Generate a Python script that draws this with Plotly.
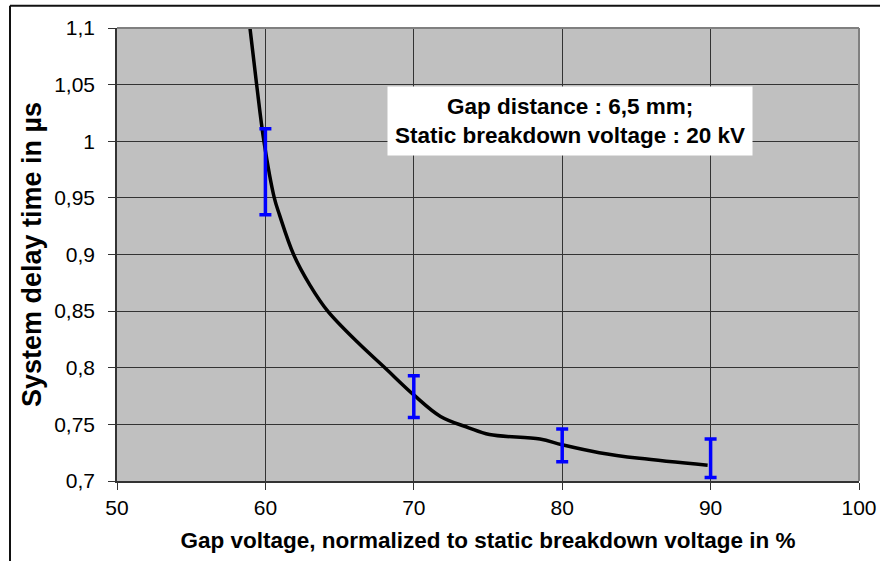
import plotly.graph_objects as go

# Curve (smoothed line)
curve_x = [58.96, 59.41, 59.9, 60.6, 60.95, 61.9, 63.0, 64.2, 66.25, 68.05, 70.0, 71.8, 73.7, 75.1, 78.5, 80.0, 82.5, 85.2, 89.8]
curve_y = [1.1, 1.05, 1.0, 0.95, 0.935, 0.9, 0.873, 0.85, 0.822, 0.8, 0.776, 0.757, 0.747, 0.741, 0.737, 0.732, 0.725, 0.720, 0.714]

# Measured ranges (error bars)
bar_x = [60, 70, 80, 90]
bar_low = [0.935, 0.756, 0.717, 0.703]
bar_high = [1.011, 0.793, 0.746, 0.737]

x_ticks = [50, 60, 70, 80, 90, 100]
x_tick_labels = ["50", "60", "70", "80", "90", "100"]
y_ticks = [0.7, 0.75, 0.8, 0.85, 0.9, 0.95, 1.0, 1.05, 1.1]
y_tick_labels = ["0,7", "0,75", "0,8", "0,85", "0,9", "0,95", "1", "1,05", "1,1"]

note_lines = ["Gap distance : 6,5 mm;", "Static breakdown voltage : 20 kV"]

FONT = "Liberation Sans, Arial, sans-serif"

bar_mid = [(lo + hi) / 2 for lo, hi in zip(bar_low, bar_high)]
bar_half = [(hi - lo) / 2 for lo, hi in zip(bar_low, bar_high)]

fig = go.Figure()
fig.add_trace(go.Scatter(
    x=curve_x, y=curve_y, mode="lines",
    line=dict(color="black", width=3.5, shape="spline", smoothing=1.0),
    showlegend=False, hoverinfo="skip",
))
fig.add_trace(go.Scatter(
    x=bar_x, y=bar_mid, mode="markers",
    marker=dict(size=1, color="rgba(0,0,0,0)"),
    error_y=dict(type="data", array=bar_half, symmetric=True,
                 color="#0000FF", thickness=3.5, width=6),
    showlegend=False, hoverinfo="skip",
))

fig.add_annotation(
    x=80.5, y=1.018, xref="x", yref="y",
    text="<b>" + "<br>".join(note_lines) + "</b>",
    showarrow=False, align="center",
    font=dict(family=FONT, size=22.5, color="black"),
    bgcolor="white", borderpad=7,
)

# Outer frame (left + top edges)
fig.add_shape(type="line", xref="paper", yref="paper",
              x0=-0.1442, x1=-0.1442, y0=-0.3, y1=1.049,
              line=dict(color="#111111", width=2))
fig.add_shape(type="line", xref="paper", yref="paper",
              x0=-0.1442, x1=1.1, y0=1.049, y1=1.049,
              line=dict(color="#111111", width=2))
# Plot-area top/right border (gray)
fig.add_shape(type="line", xref="paper", yref="paper",
              x0=0, x1=1, y0=1, y1=1, line=dict(color="#808080", width=2))
fig.add_shape(type="line", xref="paper", yref="paper",
              x0=1, x1=1, y0=0, y1=1, line=dict(color="#808080", width=2))

fig.update_layout(
    width=880, height=561,
    margin=dict(l=117, r=21, t=28, b=80),
    paper_bgcolor="white",
    plot_bgcolor="#C0C0C0",
    font=dict(family=FONT, size=21, color="black"),
    xaxis=dict(
        range=[50, 100], tickvals=x_ticks, ticktext=x_tick_labels,
        showgrid=True, gridcolor="#333333", gridwidth=1,
        zeroline=False, showline=True, linecolor="#333333", linewidth=1.5,
        ticks="outside", ticklen=7, tickcolor="#333333",
        tickfont=dict(family=FONT, size=21),
        title=dict(text="<b>Gap voltage, normalized to static breakdown voltage in %</b>",
                   font=dict(family=FONT, size=22.5), standoff=14),
        automargin=False,
    ),
    yaxis=dict(
        range=[0.7, 1.1], tickvals=y_ticks, ticktext=y_tick_labels,
        showgrid=True, gridcolor="#333333", gridwidth=1,
        zeroline=False, showline=True, linecolor="#333333", linewidth=1.5,
        ticks="outside", ticklen=7, tickcolor="#333333",
        tickfont=dict(family=FONT, size=21), ticklabelstandoff=9,
        title=dict(text="<b>System delay time in µs</b>",
                   font=dict(family=FONT, size=27), standoff=5),
        automargin=False,
    ),
)

fig.write_html(
    "out.html",
    config={"displayModeBar": False},
    post_script="document.body.style.margin='0';document.documentElement.style.overflow='hidden';",
)
